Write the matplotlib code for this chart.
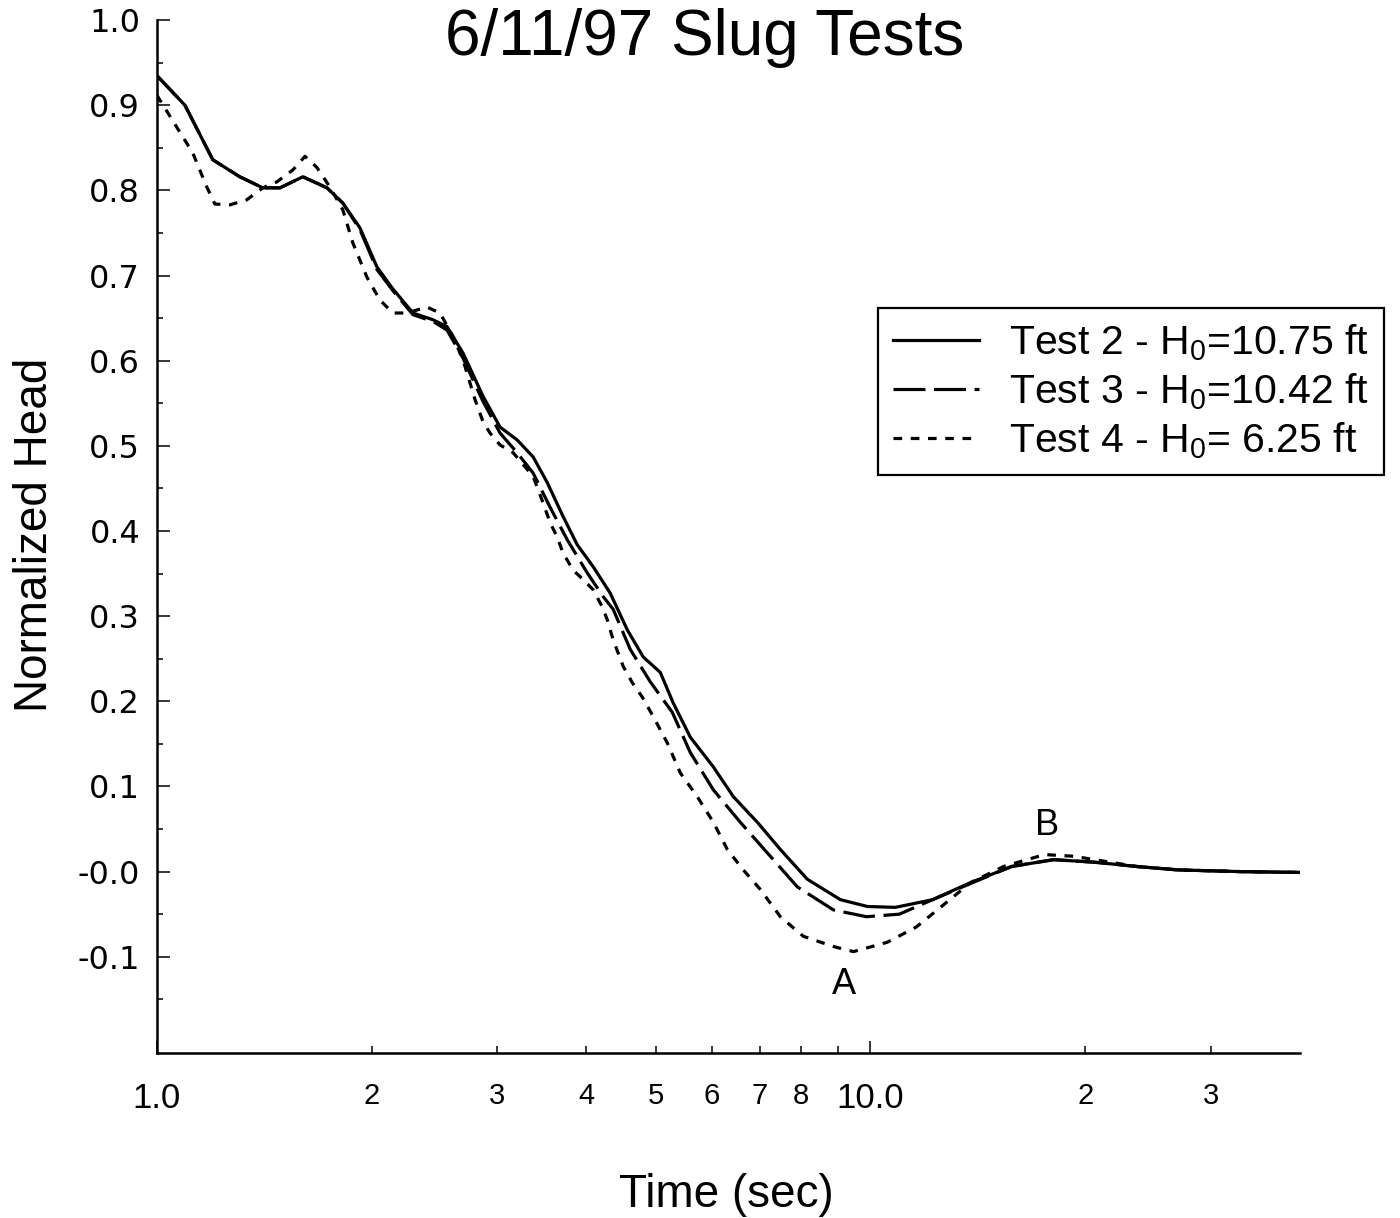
import numpy as np
import matplotlib
matplotlib.use('Agg')
import matplotlib.pyplot as plt
from matplotlib.ticker import FixedLocator, FixedFormatter

plt.rcParams['font.family'] = ['Liberation Sans', 'DejaVu Sans']
plt.rcParams['mathtext.fontset'] = 'custom'
plt.rcParams['mathtext.rm'] = 'Liberation Sans'
plt.rcParams['mathtext.it'] = 'Liberation Sans:italic'

# Test 2 - solid line
t2_time = [1.000, 1.095, 1.198, 1.307, 1.408, 1.488, 1.602, 1.732, 1.823, 1.926,
           2.035, 2.143, 2.286, 2.439, 2.551, 2.686, 2.866, 3.027, 3.198, 3.368,
           3.524, 3.710, 3.882, 4.088, 4.319, 4.563, 4.805, 5.076, 5.293, 5.591,
           6.024, 6.426, 6.942, 7.478, 8.158, 9.078, 9.904, 10.84, 12.22, 13.81,
           15.77, 18.06, 20.62, 23.61, 26.95, 32.93, 40.0]
t2_head = [0.935, 0.900, 0.836, 0.816, 0.803, 0.803, 0.816, 0.803, 0.785, 0.756,
           0.710, 0.684, 0.656, 0.648, 0.640, 0.609, 0.558, 0.522, 0.507, 0.487,
           0.457, 0.417, 0.384, 0.358, 0.327, 0.284, 0.252, 0.234, 0.198, 0.158,
           0.123, 0.088, 0.058, 0.026, -0.009, -0.033, -0.041, -0.042, -0.033, -0.013,
           0.006, 0.014, 0.011, 0.006, 0.002, 0.000, -0.001]

# Test 3 - long dashes
t3_time = [1.000, 1.095, 1.198, 1.307, 1.408, 1.488, 1.602, 1.732, 1.823, 1.926,
           2.035, 2.143, 2.286, 2.439, 2.551, 2.686, 2.866, 3.027, 3.198, 3.368,
           3.557, 3.758, 4.009, 4.222, 4.361, 4.607, 4.914, 5.277, 5.591, 6.024,
           6.571, 7.170, 7.901, 8.875, 9.872, 10.98, 12.22, 13.81, 15.77, 18.06,
           20.62, 23.61, 26.95, 32.93, 40.0]
t3_head = [0.935, 0.900, 0.836, 0.816, 0.803, 0.803, 0.816, 0.803, 0.785, 0.754,
           0.707, 0.682, 0.654, 0.646, 0.636, 0.603, 0.552, 0.515, 0.492, 0.468,
           0.428, 0.390, 0.351, 0.323, 0.308, 0.261, 0.223, 0.187, 0.140, 0.096,
           0.058, 0.022, -0.018, -0.045, -0.053, -0.050, -0.033, -0.014, 0.006, 0.014,
           0.011, 0.006, 0.002, 0.000, -0.001]

# Test 4 - short dashes
t4_time = [1.000, 1.067, 1.123, 1.175, 1.206, 1.266, 1.337, 1.408, 1.473, 1.551,
           1.613, 1.676, 1.748, 1.823, 1.883, 1.970, 2.055, 2.143, 2.242, 2.391,
           2.494, 2.602, 2.686, 2.793, 2.866, 2.931, 3.027, 3.157, 3.368, 3.478,
           3.557, 3.639, 3.710, 3.832, 3.958, 4.088, 4.209, 4.277, 4.361, 4.504,
           4.637, 4.789, 4.963, 5.193, 5.414, 5.720, 6.024, 6.302, 6.635, 7.012,
           7.478, 8.054, 8.875, 9.466, 10.56, 11.60, 12.58, 13.81, 15.37, 17.54,
           19.27, 20.62, 23.61, 26.95, 32.93, 40.0]
t4_head = [0.912, 0.874, 0.844, 0.804, 0.784, 0.783, 0.789, 0.803, 0.810, 0.824,
           0.840, 0.827, 0.804, 0.777, 0.738, 0.698, 0.671, 0.656, 0.656, 0.663,
           0.656, 0.628, 0.601, 0.554, 0.528, 0.515, 0.501, 0.492, 0.464, 0.433,
           0.410, 0.393, 0.374, 0.354, 0.343, 0.331, 0.311, 0.296, 0.272, 0.241,
           0.222, 0.205, 0.182, 0.151, 0.116, 0.088, 0.058, 0.026, 0.002, -0.021,
           -0.053, -0.076, -0.088, -0.094, -0.083, -0.065, -0.041, -0.013, 0.006, 0.020,
           0.018, 0.014, 0.006, 0.002, 0.000, -0.001]

labels = ['Test 2 - H$_\\mathrm{0}$=10.75 ft',
          'Test 3 - H$_\\mathrm{0}$=10.42 ft',
          'Test 4 - H$_\\mathrm{0}$= 6.25 ft']

y_major = [-0.1, 0.0, 0.1, 0.2, 0.3, 0.4, 0.5, 0.6, 0.7, 0.8, 0.9, 1.0]
y_major_labels = ['-0.1', '-0.0', '0.1', '0.2', '0.3', '0.4', '0.5', '0.6',
                  '0.7', '0.8', '0.9', '1.0']
y_minor = [-0.15, -0.05, 0.05, 0.15, 0.25, 0.35, 0.45, 0.55, 0.65, 0.75, 0.85, 0.95]
x_major = [1, 10]
x_major_labels = ['1.0', '10.0']
x_minor = [2, 3, 4, 5, 6, 7, 8, 9, 20, 30]
x_minor_labels = ['2', '3', '4', '5', '6', '7', '8', '', '2', '3']

fig = plt.figure(figsize=(14, 12.18), dpi=100)
ax = fig.add_axes([0.112, 0.1355, 0.8166, 0.848])

lw = 2.3
ax.plot(t2_time, t2_head, color='black', lw=lw, label=labels[0])
ax.plot(t3_time, t3_head, color='black', lw=lw, linestyle=(0, (10, 2.7)), label=labels[1])
ax.plot(t4_time, t4_head, color='black', lw=lw, linestyle=(0, (2.7, 2.7)), label=labels[2])

ax.set_xscale('log')
ax.set_xlim(1, 40)
ax.set_ylim(-0.213, 1.0)

for side in ['top', 'right']:
    ax.spines[side].set_visible(False)
for side in ['left', 'bottom']:
    ax.spines[side].set_linewidth(1.8)

ax.xaxis.set_major_locator(FixedLocator(x_major))
ax.xaxis.set_major_formatter(FixedFormatter(x_major_labels))
ax.xaxis.set_minor_locator(FixedLocator(x_minor))
ax.xaxis.set_minor_formatter(FixedFormatter(x_minor_labels))
ax.yaxis.set_major_locator(FixedLocator(y_major))
ax.yaxis.set_major_formatter(FixedFormatter(y_major_labels))
ax.yaxis.set_minor_locator(FixedLocator(y_minor))

ax.tick_params(axis='both', which='both', direction='in', width=1.1)
ax.tick_params(axis='x', which='major', length=9, pad=21, labelsize=25)
ax.tick_params(axis='x', which='minor', length=5, pad=21, labelsize=21)
ax.tick_params(axis='y', which='major', length=9, pad=12, labelsize=23)
ax.tick_params(axis='y', which='minor', length=4.5)
for t in ax.get_yticklabels():
    t.set_fontfamily('DejaVu Sans')

fig.text(705 / 1400, 1 - 55 / 1218, '6/11/97 Slug Tests', fontsize=46,
         ha='center', va='baseline')
fig.text(726 / 1400, 1 - 1207 / 1218, 'Time (sec)', fontsize=33,
         ha='center', va='baseline')
fig.text(47 / 1400, 1 - 535 / 1218, 'Normalized Head', fontsize=33, rotation=90,
         rotation_mode='anchor', ha='center', va='baseline')

ax.text(9.19, -0.133, 'A', fontsize=26, ha='center', va='center')
ax.text(17.7, 0.054, 'B', fontsize=26, ha='center', va='center')

leg = ax.legend(loc='upper left', bbox_to_anchor=(0.631, 0.721), borderaxespad=0,
                fontsize=29.5, frameon=True, fancybox=False, handlelength=2.1,
                handletextpad=0.75, labelspacing=0.2, borderpad=0.35)
leg.get_frame().set_edgecolor('black')
leg.get_frame().set_linewidth(1.6)
leg.get_frame().set_alpha(1)

fig.savefig('out.png', dpi=100)
